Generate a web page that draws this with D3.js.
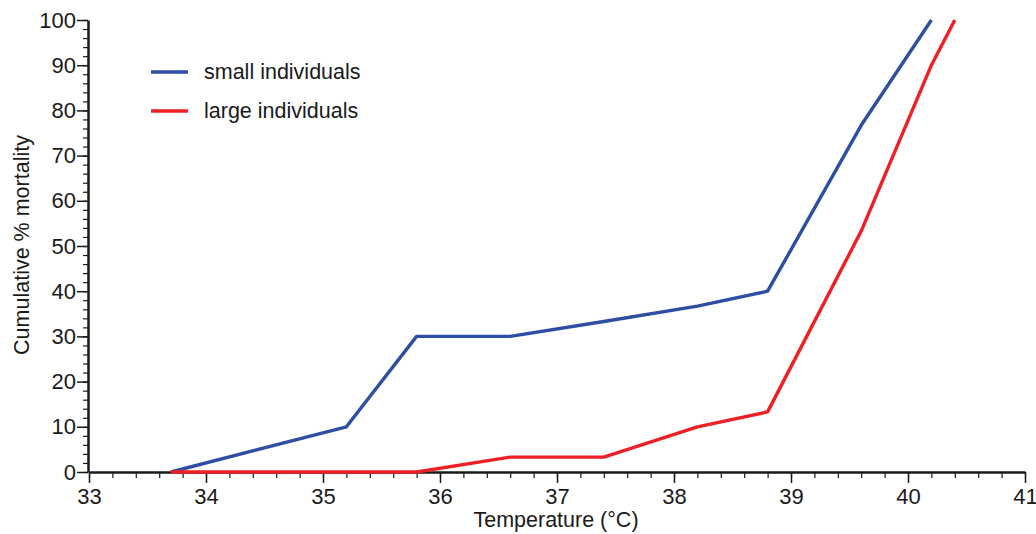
<!DOCTYPE html>
<meta charset="utf-8">
<style>
  body { margin: 0; background: #fff; }
  text { font-family: "Liberation Sans", Arial, sans-serif; fill: #1a1a1a; }
  .axis path, .axis line { stroke: #1a1a1a; }
</style>
<svg width="1036" height="534"></svg>
<script src="https://d3js.org/d3.v7.min.js"></script>
<script>
// data
const temps = [33.7, 35.2, 35.8, 36.6, 37.4, 38.2, 38.8, 39.6, 40.2]
const small = [0, 10, 30, 30, 33.3, 36.7, 40, 76.7, 100]
const tempsLarge = [33.7, 35.8, 36.6, 37.4, 38.2, 38.8, 39.6, 40.2, 40.4]
const large = [0, 0, 3.3, 3.3, 10, 13.3, 53.3, 90, 100]
const xTicks = [33, 34, 35, 36, 37, 38, 39, 40, 41]
const yTicks = [0, 10, 20, 30, 40, 50, 60, 70, 80, 90, 100]

const series = [
  {name: "small individuals", color: "#2e4ea3", xs: temps, ys: small},
  {name: "large individuals", color: "#ee1f25", xs: tempsLarge, ys: large}
]

const svg = d3.select("svg")
const x = d3.scaleLinear().domain([33, 41]).range([89, 1025])
const y = d3.scaleLinear().domain([0, 100]).range([472, 20])

// minor ticks
svg.append("g")
  .attr("class", "axis")
  .attr("transform", "translate(0,472)")
  .call(d3.axisBottom(x).tickValues(d3.range(33, 41.01, 0.2)).tickSize(6).tickFormat(""))
  .call(g => g.select(".domain").remove())
  .selectAll("line").attr("stroke-width", 1.2)

svg.append("g")
  .attr("class", "axis")
  .attr("transform", "translate(88,0)")
  .call(d3.axisLeft(y).tickValues(d3.range(0, 100.1, 2)).tickSize(5).tickFormat(""))
  .call(g => g.select(".domain").remove())
  .selectAll("line").attr("stroke-width", 1.2)

// major axes
const xAxis = svg.append("g")
  .attr("class", "axis")
  .attr("transform", "translate(0,472)")
  .call(d3.axisBottom(x).tickValues(xTicks).tickSize(11).tickSizeOuter(0).tickPadding(5).tickFormat(d3.format("d")))
xAxis.select(".domain").attr("stroke-width", 2.5)
xAxis.selectAll("line").attr("stroke-width", 1.5)
xAxis.selectAll("text").style("font-size", "22px").attr("fill", "#1a1a1a")

const yAxis = svg.append("g")
  .attr("class", "axis")
  .attr("transform", "translate(88,0)")
  .call(d3.axisLeft(y).tickValues(yTicks).tickSize(11).tickSizeOuter(0).tickPadding(1))
yAxis.select(".domain").attr("stroke-width", 2.5)
yAxis.selectAll("line").attr("stroke-width", 1.5)
yAxis.selectAll("text").style("font-size", "22px").attr("fill", "#1a1a1a")

// axis titles
svg.append("text")
  .attr("x", 556).attr("y", 527)
  .attr("text-anchor", "middle")
  .style("font-size", "21.5px")
  .text("Temperature (°C)")

svg.append("text")
  .attr("transform", "translate(29,245) rotate(-90)")
  .attr("text-anchor", "middle")
  .style("font-size", "21.5px")
  .text("Cumulative % mortality")

// lines
const line = d3.line()
  .x(d => x(d[0]))
  .y(d => y(d[1]))

series.forEach(s => {
  svg.append("path")
    .datum(s.xs.map((t, i) => [t, s.ys[i]]))
    .attr("fill", "none")
    .attr("stroke", s.color)
    .attr("stroke-width", 3.4)
    .attr("stroke-linejoin", "round")
    .attr("d", line)
})

// legend
const legend = svg.append("g")
series.forEach((s, i) => {
  const ly = 72 + i * 39
  legend.append("line")
    .attr("x1", 151).attr("x2", 188)
    .attr("y1", ly).attr("y2", ly)
    .attr("stroke", s.color).attr("stroke-width", 3.4)
  legend.append("text")
    .attr("x", 204).attr("y", ly + 7)
    .style("font-size", "21.5px")
    .text(s.name)
})
</script>
